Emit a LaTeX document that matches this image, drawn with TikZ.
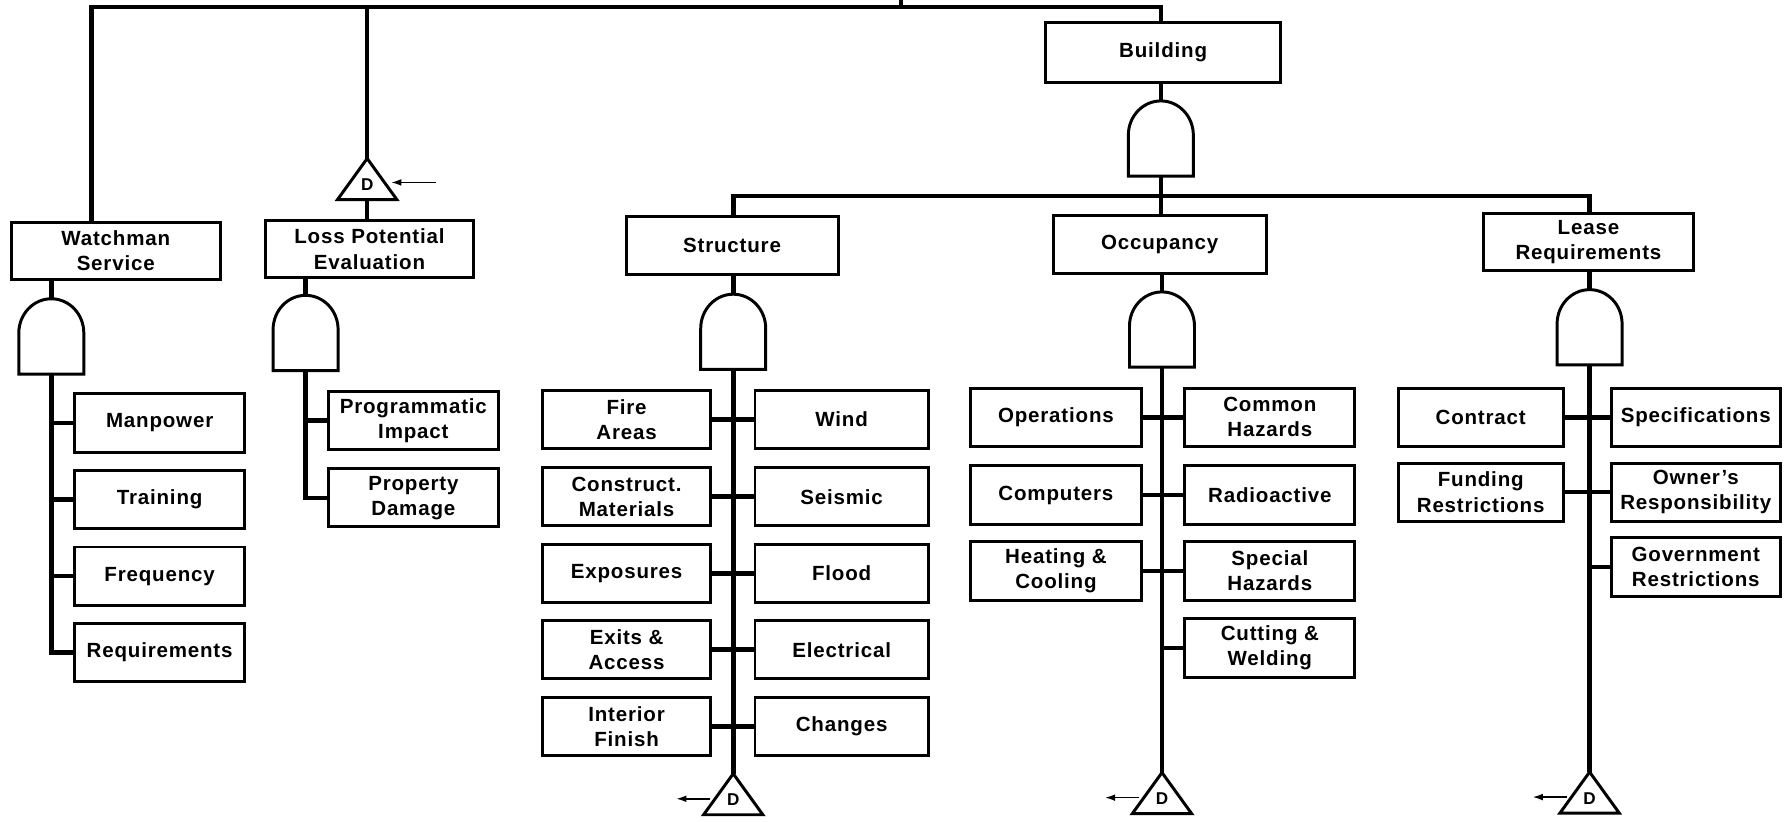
\documentclass[tikz,border=0pt]{standalone}
\usepackage{fontspec}
\newfontfamily\chartfont[LetterSpace=4]{Liberation Sans}
\usetikzlibrary{arrows.meta,positioning}

\tikzset{
  andgate/.pic={
    \draw[line width=2.6pt,fill=white] (-28.5,33) -- (-28.5,-3)
      arc[start angle=180,end angle=360,x radius=28.5,y radius=30] -- (28.5,33) -- cycle;
    \coordinate (-in) at (0,-33);
    \coordinate (-out) at (0,33);
  },
  dtri/.pic={
    \draw[line width=2.6pt,fill=white] (0,-18) -- (26,18) -- (-26,18) -- cycle;
    \node[font=\chartfont\bfseries\fontsize{15}{15}\selectfont] at (0,5) {D};
    \coordinate (-apex) at (0,-18);
    \coordinate (-base) at (0,18);
    \coordinate (-left) at (-20,4);
    \coordinate (-right) at (21,3);
  }
}

\begin{document}
\begin{tikzpicture}[x=1pt,y=-1pt,
  box/.style={draw,line width=2.6pt,fill=white,align=center,minimum height=51pt,inner sep=3pt,font=\chartfont\bfseries\fontsize{18}{22}\selectfont},
  leaf/.style={box,minimum width=149pt},
  link/.style={line width=4pt},
  lead/.style={-{Latex[length=9pt,width=6pt]},line width=1.4pt}]
\useasboundingbox (0,0) rectangle (1568,720);

% top level events
\node[box,minimum width=183pt,minimum height=50pt] (watch) at (101.5,220) {Watchman\\Service};
\node[box,minimum width=182pt,minimum height=50pt] (loss) at (324,218.5) {Loss Potential\\Evaluation};
\node[box,minimum width=206pt,minimum height=52pt] (bld) at (1020,46) {Building};
\node[box,minimum width=186pt] (struct) at (642,215.5) {Structure};
\node[box,minimum width=187pt] (occ) at (1017,214.5) {Occupancy};
\node[box,minimum width=184pt,minimum height=50pt] (lease) at (1393,212) {Lease\\Requirements};

% gates
\pic (bg) at (1018,121.5) {andgate};
\pic (wg) at (45,295) {andgate};
\pic (lg) at (268,292) {andgate};
\pic (sg) at (643,291) {andgate};
\pic (og) at (1019,289) {andgate};
\pic (rg) at (1394,287) {andgate};

\pic (lt) at (322,157) {dtri};
\pic (st) at (643,696.5) {dtri};
\pic (ot) at (1019,695.5) {dtri};
\pic (rt) at (1394,695) {dtri};

% watchman
\node[leaf] (manp) at (140,371) {Manpower};
\node[leaf,below=13.5pt of manp] (train) {Training};
\node[leaf,below=13.5pt of train] (freq) {Frequency};
\node[leaf,below=13.5pt of freq] (req) {Requirements};

% loss potential
\node[leaf] (prog) at (362.5,369) {Programmatic\\Impact};
\node[leaf,below=14pt of prog] (dam) {Property\\Damage};

% structure
\node[leaf,minimum width=147pt] (fire) at (549.5,368) {Fire\\Areas};
\node[leaf,minimum width=147pt,below=14pt of fire] (constr) {Construct.\\Materials};
\node[leaf,minimum width=147pt,below=13.5pt of constr] (expo) {Exposures};
\node[leaf,minimum width=147pt,below=13.5pt of expo] (exits) {Exits \&\\Access};
\node[leaf,minimum width=147pt,below=13.5pt of exits] (inter) {Interior\\Finish};
\node[leaf,minimum width=152pt,right=36.5pt of fire] (wind) {Wind};
\node[leaf,minimum width=152pt,below=14pt of wind] (seis) {Seismic};
\node[leaf,minimum width=152pt,below=13.5pt of seis] (flood) {Flood};
\node[leaf,minimum width=152pt,below=13.5pt of flood] (elec) {Electrical};
\node[leaf,minimum width=152pt,below=13.5pt of elec] (chg) {Changes};

% occupancy
\node[leaf,minimum width=150pt] (ops) at (926,366) {Operations};
\node[leaf,minimum width=150pt,below=14.5pt of ops] (comp) {Computers};
\node[leaf,minimum width=150pt,below=13pt of comp] (heat) {Heating \&\\Cooling};
\node[leaf,right=35.5pt of ops] (common) {Common\\Hazards};
\node[leaf,below=14.5pt of common] (radio) {Radioactive};
\node[leaf,below=13pt of radio] (spec) {Special\\Hazards};
\node[leaf,below=14pt of spec] (cut) {Cutting \&\\Welding};

% lease
\node[leaf,minimum width=145pt] (contr) at (1298.5,366) {Contract};
\node[leaf,minimum width=145pt,below=12pt of contr] (fund) {Funding\\Restrictions};
\node[leaf,minimum width=148pt,right=39.5pt of contr] (specs) {Specifications};
\node[leaf,minimum width=148pt,below=12pt of specs] (owner) {Owner’s\\Responsibility};
\node[leaf,minimum width=148pt,below=12pt of owner] (gov) {Government\\Restrictions};

% upper tree
\coordinate (root) at (790,0);
\coordinate (bus) at (790,6);
\coordinate (mid) at (1018,172);
\draw[link] (root) -- (bus);
\draw[link] ([xshift=-21.5pt]watch.north) |- (bus) -| (bg-in |- bld.north);
\draw[link] (lt-apex) -- (lt-apex |- bus);
\draw[link] (lt-base) -- (lt-base |- loss.north);
\coordinate (lhint) at (382,160);
\draw[lead] (lhint) -- (lt-right);
\draw[link] (bg-in |- bld.south) -- (bg-in);
\draw[link] (bg-out) -- (bg-out |- occ.north);
\draw[link] (sg-in |- struct.north) |- (mid) -| (rg-in |- lease.north);

% events to gates
\draw[link] (wg-in) -- (wg-in |- watch.south);
\draw[link] (lg-in) -- (lg-in |- loss.south);
\draw[link] (sg-in |- struct.south) -- (sg-in);
\draw[link] (og-in |- occ.south) -- (og-in);
\draw[link] (rg-in |- lease.south) -- (rg-in);

% branches
\draw[link] (wg-out) |- (req.west);
\foreach \n in {manp,train,freq} \draw[link] (\n.west) -- (\n.west -| wg-out);
\draw[link] (lg-out) |- (dam.west);
\draw[link] (prog.west) -- (prog.west -| lg-out);

\draw[link] (sg-out) -- (st-apex);
\foreach \n in {fire,constr,expo,exits,inter} \draw[link] (\n.east) -- (\n.east -| sg-out);
\foreach \n in {wind,seis,flood,elec,chg} \draw[link] (\n.west) -- (\n.west -| sg-out);

\draw[link] (og-out) -- (ot-apex);
\foreach \n in {ops,comp,heat} \draw[link] (\n.east) -- (\n.east -| og-out);
\foreach \n in {common,radio,spec,cut} \draw[link] (\n.west) -- (\n.west -| og-out);

\draw[link] (rg-out) -- (rt-apex);
\foreach \n in {contr,fund} \draw[link] (\n.east) -- (\n.east -| rg-out);
\foreach \n in {specs,owner,gov} \draw[link] (\n.west) -- (\n.west -| rg-out);

% transfer arrows
\coordinate[left=30pt of st-left] (stail);
\coordinate[left=30pt of ot-left] (otail);
\coordinate[left=30pt of rt-left] (rtail);
\draw[lead] (st-left) -- (stail);
\draw[lead] (ot-left) -- (otail);
\draw[lead] (rt-left) -- (rtail);
\end{tikzpicture}
\end{document}
